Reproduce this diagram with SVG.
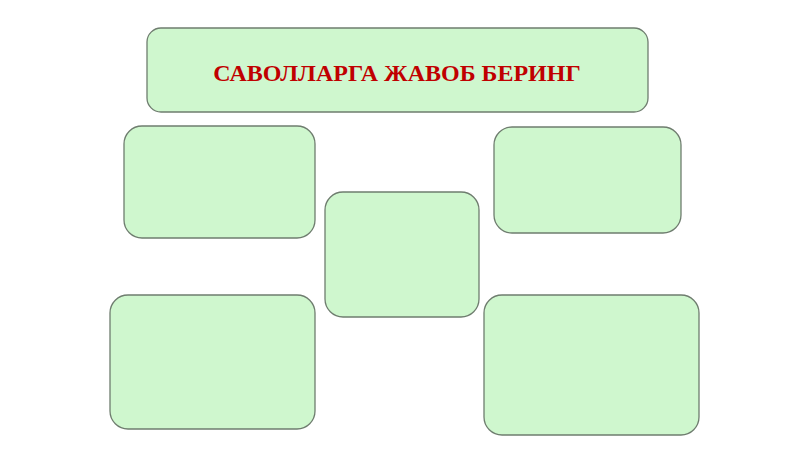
<svg xmlns="http://www.w3.org/2000/svg" width="800" height="449" viewBox="0 0 800 449">
<defs>
<style>
.box{fill:#cff7ce;stroke:#6f7d6f;stroke-width:1.3}
.title{font-family:"Liberation Serif","Times New Roman",serif;font-weight:bold;font-size:24px;fill:#c00000;text-anchor:middle}
</style>
</defs>
<rect width="800" height="449" fill="#ffffff"/>
<g id="title">
<rect class="box" x="147" y="28" width="501" height="84" rx="14"/>
<text class="title" x="397" y="81">САВОЛЛАРГА ЖАВОБ БЕРИНГ</text>
</g>
<g id="box1"><rect class="box" x="124" y="126" width="191" height="112" rx="18"/></g>
<g id="box2"><rect class="box" x="494" y="127" width="187" height="106" rx="18"/></g>
<g id="box3"><rect class="box" x="325" y="192" width="154" height="125" rx="18"/></g>
<g id="box4"><rect class="box" x="110" y="295" width="205" height="134" rx="18"/></g>
<g id="box5"><rect class="box" x="484" y="295" width="215" height="140" rx="18"/></g>
<g id="connectors"></g>
</svg>
